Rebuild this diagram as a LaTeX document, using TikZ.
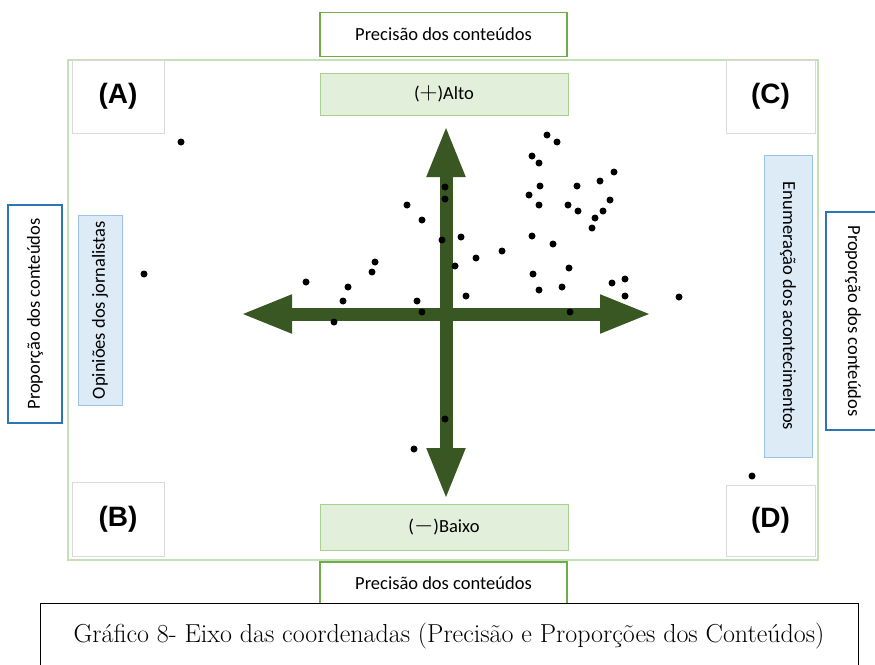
\documentclass[tikz,border=0pt]{standalone}
\usepackage{fontspec}
\usepackage{tikz}
\usetikzlibrary{arrows.meta}
\newfontfamily\calibri{Carlito}
\newfontfamily\arialb{Liberation Sans}
\definecolor{axisgreen}{RGB}{56,87,35}
\definecolor{titlegreen}{RGB}{112,173,71}
\definecolor{framegreen}{RGB}{197,224,180}
\definecolor{levelfill}{RGB}{226,239,218}
\definecolor{leveldraw}{RGB}{169,208,142}
\definecolor{sideblue}{RGB}{46,117,182}
\definecolor{bluefill}{RGB}{221,235,247}
\definecolor{bluedraw}{RGB}{157,195,230}
\definecolor{cornergray}{RGB}{217,217,217}
\newcommand{\bigsign}[1]{{\fontsize{25}{25}\selectfont$#1$}}
\tikzset{
  titlebox/.style={draw=titlegreen, line width=1.6pt, fill=white, inner sep=0pt,
    minimum width=247pt, minimum height=44pt, font=\calibri\fontsize{18.5}{20}\selectfont},
  levelbox/.style={draw=leveldraw, line width=0.9pt, fill=levelfill, inner sep=0pt,
    minimum width=248pt, font=\calibri\fontsize{18.5}{20}\selectfont},
  sidebox/.style={draw=sideblue, line width=1.6pt, fill=white, inner sep=0pt,
    minimum width=218pt, minimum height=54pt, font=\calibri\fontsize{18.5}{20}\selectfont},
  groupbox/.style={draw=bluedraw, line width=0.9pt, fill=bluefill, inner sep=0pt,
    font=\calibri\fontsize{18.5}{20}\selectfont},
  cornerbox/.style={draw=cornergray, line width=0.8pt, fill=white, inner sep=0pt,
    font=\arialb\bfseries\fontsize{28}{30}\selectfont},
  axis/.style={axisgreen, line width=13pt,
    -{Triangle[width=35pt,length=52pt]}},
  dot/.style={fill=black},
}
\begin{document}
\begin{tikzpicture}[x=1pt,y=-1pt]
  \useasboundingbox (0,0) rectangle (875,664);
  \clip (0,0) rectangle (875,664);
  % quadrant frame
  \draw[framegreen, line width=1.8pt] (68,60) rectangle (818,560);
  % corner labels
  \node[cornerbox, minimum width=92pt, minimum height=73pt] (qa) at (118,96.5) {(A)};
  \node[cornerbox, minimum width=89pt, minimum height=73pt] (qc) at (770.5,96.5) {(C)};
  \node[cornerbox, minimum width=92pt, minimum height=74pt] (qb) at (118,519) {(B)};
  \node[cornerbox, minimum width=89pt, minimum height=71pt] (qd) at (770.5,520.5) {(D)};
  % precision titles and levels
  \node[titlebox] (ptop) at (443.5,34.5) {Precisão dos conteúdos};
  \node[titlebox, minimum height=42pt] (pbot) at (443.5,583) {Precisão dos conteúdos};
  \node[levelbox, minimum height=42pt] (alto) at (444,94) {(\bigsign{+})Alto};
  \node[levelbox, minimum height=46pt] (baixo) at (444,527) {(\bigsign{-})Baixo};
  % proportion sides
  \node[sidebox, rotate=90] (pleft) at (35,314) {Proporção dos conteúdos};
  \node[sidebox, rotate=-90] (pright) at (853,321) {Proporção dos conteúdos};
  \node[groupbox, rotate=90, minimum width=190pt, minimum height=44pt] (opin) at (100,310) {Opiniões dos jornalistas};
  \node[groupbox, rotate=-90, minimum width=302pt, minimum height=48pt] (enum) at (788,306) {Enumeração dos acontecimentos};
  % axes
  \coordinate (o) at (446,314);
  \coordinate (xl) at (240,314);
  \coordinate (xr) at (652,314);
  \coordinate (yt) at (446,125);
  \coordinate (yb) at (446,500);
  \draw[axis] (o) -- (xl);
  \draw[axis] (o) -- (xr);
  \draw[axis] (o) -- (yt);
  \draw[axis] (o) -- (yb);
  % news items
  \foreach \p in {(547,135),(557,142),(532,156),(539,163),(614,172),(600,181),
      (540,186),(577,186),(529,195),(539,205),(568,205),(610,200),(578,211),
      (603,211),(595,218),(592,228),(445,187),(445,199),(407,205),(422,220),
      (442,240),(461,237),(532,236),(553,244),(502,251),(476,258),(455,266),
      (569,268),(533,274),(375,262),(372,272),(306,282),(348,287),(562,287),
      (539,290),(612,283),(625,279),(625,296),(466,296),(343,301),(417,301),
      (422,312),(570,312),(334,322),(445,419),(414,449),
      (181,142),(144,274),(679,297),(752,476)}
    \fill[dot] \p circle (3.5);
  % caption
  \node[draw=black, line width=0.8pt, fill=white, inner sep=0pt, minimum width=818pt,
    minimum height=66pt, font=\fontsize{26}{28}\selectfont] (cap) at (449,636)
    {Gráfico 8- Eixo das coordenadas (Precisão e Proporções dos Conteúdos)};
\end{tikzpicture}
\end{document}
